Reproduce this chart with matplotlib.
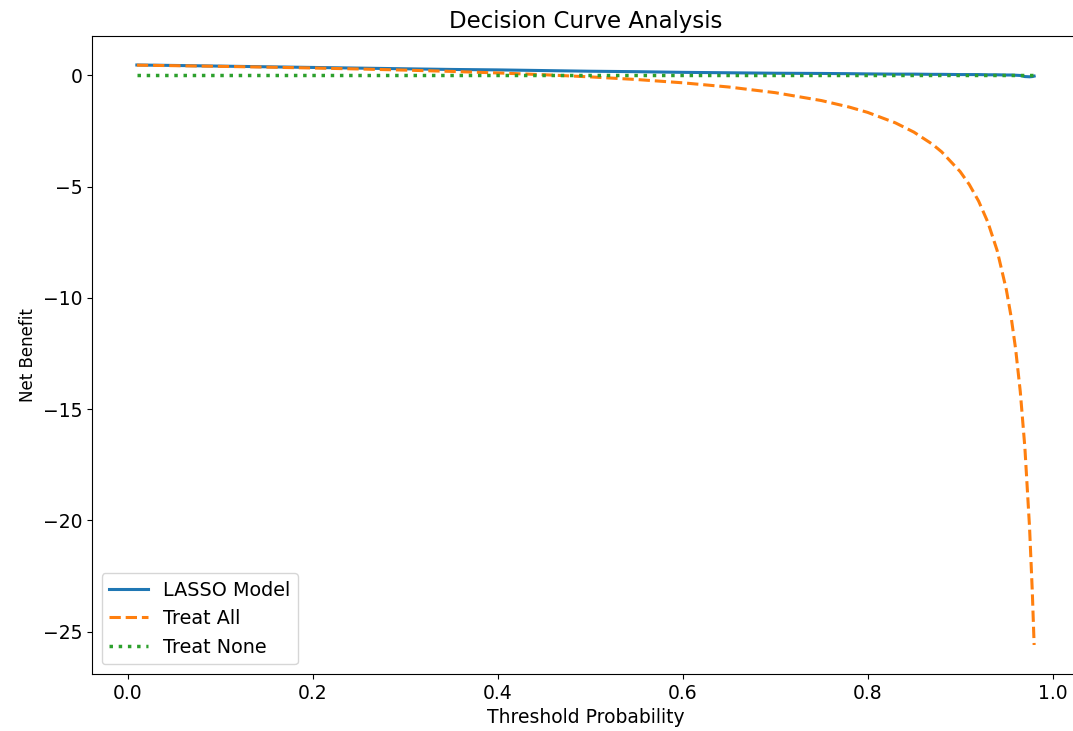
import numpy as np
import matplotlib.pyplot as plt

# threshold probabilities and net benefit values
thresholds = [0.01, 0.05, 0.10, 0.15, 0.20, 0.25, 0.30, 0.35, 0.40, 0.45,
              0.50, 0.55, 0.60, 0.65, 0.70, 0.75, 0.78, 0.80, 0.83, 0.85,
              0.87, 0.88, 0.90, 0.91, 0.92, 0.93, 0.94, 0.95, 0.955, 0.96,
              0.965, 0.97, 0.975, 0.978, 0.98]

lasso_nb = [0.47, 0.45, 0.42, 0.39, 0.36, 0.33, 0.30, 0.27, 0.25, 0.22,
            0.19, 0.17, 0.14, 0.12, 0.10, 0.09, 0.08, 0.07, 0.06, 0.06,
            0.05, 0.05, 0.04, 0.04, 0.04, 0.03, 0.03, 0.02, 0.02, 0.01,
            0.00, -0.05, -0.06, -0.05, -0.03]

treat_all_nb = [0.463, 0.440, 0.409, 0.374, 0.335, 0.291, 0.240, 0.182, 0.113, 0.033,
                -0.064, -0.182, -0.330, -0.520, -0.773, -1.128, -1.42, -1.660, -2.13, -2.547,
                -3.09, -3.433, -4.320, -4.91, -5.650, -6.60, -7.867, -9.640, -10.82, -12.30,
                -14.20, -16.73, -20.28, -23.18, -25.60]

treat_none_nb = [0.0] * len(thresholds)

fig = plt.figure(figsize=(10.73, 7.31), dpi=100)
# the original picture is cut off on the right, so the right spine falls outside
ax = fig.add_axes([92/1073, 1-674/731, (1079-92)/1073, (674-36)/731])

ax.plot(thresholds, lasso_nb, color='tab:blue', lw=2.2, label='LASSO Model')
ax.plot(thresholds, treat_all_nb, color='tab:orange', lw=2.2, ls='--', label='Treat All')
ax.plot(thresholds, treat_none_nb, color='tab:green', lw=2.5, ls=':', label='Treat None')

ax.set_title('Decision Curve Analysis', fontsize=16.5)
ax.set_xlabel('Threshold Probability', fontsize=13.5)
ax.set_ylabel('Net Benefit', fontsize=12)
ax.tick_params(labelsize=13.5)
ax.legend(loc='lower left', fontsize=13.8)

plt.savefig('out.png', dpi=100)
